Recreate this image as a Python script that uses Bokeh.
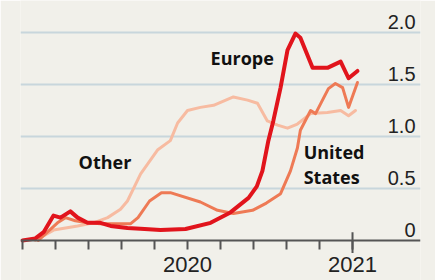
from bokeh.plotting import figure
from bokeh.models import ColumnDataSource, FixedTicker, Span, Range1d
from bokeh.core.properties import value
from bokeh.embed import file_html
from bokeh.resources import INLINE

# months since March 2020 (0 = Mar 2020, 10 = Jan 2021)
europe_m = [0, 0.39, 0.64, 0.94, 1.15, 1.45, 1.67, 1.97, 2.36, 2.67, 3.18, 3.7, 4.18, 4.94, 5.7,
            6.3, 6.85, 7.1, 7.27, 7.45, 7.6, 7.82, 8.03, 8.27, 8.42, 8.79, 9.24, 9.64, 9.88, 10.15]
europe_v = [0, 0.02, 0.08, 0.24, 0.22, 0.28, 0.22, 0.17, 0.17, 0.14, 0.12, 0.11, 0.10, 0.11, 0.17,
            0.27, 0.41, 0.52, 0.67, 0.96, 1.15, 1.47, 1.83, 1.99, 1.95, 1.66, 1.66, 1.72, 1.56, 1.63]

us_m = [0.48, 1.06, 1.3, 1.6, 1.97, 2.36, 3.27, 3.5, 3.85, 4.21, 4.48, 5.39, 5.91, 6.39, 6.97,
        7.39, 7.82, 8.12, 8.33, 8.42, 8.73, 8.88, 9.09, 9.27, 9.48, 9.7, 9.88, 10.15]
us_v = [0.0, 0.17, 0.22, 0.19, 0.17, 0.16, 0.16, 0.22, 0.38, 0.46, 0.46, 0.37, 0.29, 0.26, 0.29,
        0.36, 0.45, 0.67, 0.89, 1.06, 1.25, 1.22, 1.35, 1.46, 1.51, 1.47, 1.28, 1.52]

other_m = [0.39, 0.94, 1.67, 2.15, 2.58, 2.97, 3.18, 3.58, 4.09, 4.48, 4.7, 5.0, 5.39, 5.79, 6.39,
           6.82, 7.12, 7.42, 7.73, 8.03, 8.33, 8.73, 9.24, 9.64, 9.88, 10.09]
other_v = [0.0, 0.10, 0.14, 0.17, 0.22, 0.30, 0.38, 0.64, 0.87, 0.96, 1.13, 1.25, 1.28, 1.30, 1.38,
           1.35, 1.32, 1.15, 1.11, 1.08, 1.12, 1.22, 1.23, 1.25, 1.20, 1.25]

month_ticks = [0, 1, 2, 3, 4, 5, 6, 7, 8, 9, 10]
year_labels = {5: "2020", 10: "2021"}
y_ticks = [0, 0.5, 1.0, 1.5, 2.0]
y_tick_labels = ["0", "0.5", "1.0", "1.5", "2.0"]

series_labels = ["Europe", "Other", "United", "States"]
label_m = [5.70, 1.70, 8.52, 8.52]
label_v = [1.683, 0.69, 0.779, 0.548]

BG = "#f1f0ea"
NARROW = "Liberation Sans Narrow, Liberation Sans, sans-serif"

p = figure(width=435, height=280, output_backend="svg", toolbar_location=None,
           x_range=Range1d(-0.0606, 12.06), y_range=Range1d(-0.3846, 2.3077),
           min_border_left=20, min_border_right=15, min_border_top=0, min_border_bottom=0)
p.background_fill_color = BG
p.border_fill_color = BG
p.outline_line_color = None

p.yaxis.visible = False
p.xgrid.visible = False
p.ygrid.ticker = FixedTicker(ticks=[0.5, 1.0, 1.5, 2.0])
p.ygrid.grid_line_color = "#c8d6dc"
p.ygrid.grid_line_width = 2

xa = p.xaxis[0]
xa.fixed_location = 0
xa.ticker = FixedTicker(ticks=month_ticks)
xa.major_label_overrides = {k: year_labels.get(k, "") for k in month_ticks}
xa.axis_line_color = None
xa.major_tick_line_color = "#555555"
xa.major_tick_line_width = 2
xa.major_tick_out = 9
xa.major_tick_in = 0
xa.minor_tick_line_color = None
xa.major_label_standoff = 7
xa.major_label_text_font = NARROW
xa.major_label_text_font_size = "22px"
xa.major_label_text_color = "#222222"

p.add_layout(Span(location=0, dimension="width", line_color="#555555", line_width=2))

# longer tick at the year boundary
p.segment(x0=[month_ticks[-1]], y0=[-0.12], x1=[month_ticks[-1]], y1=[0.08],
          line_color="#555555", line_width=2)

p.line(other_m, other_v, line_color="#f7bba1", line_width=3, line_join="round", line_cap="round")
p.line(us_m, us_v, line_color="#ee7a55", line_width=3, line_join="round", line_cap="round")
p.line(europe_m, europe_v, line_color="#e1141c", line_width=4, line_join="round", line_cap="round")

ysrc = ColumnDataSource(dict(x=[11.91] * len(y_ticks), y=y_ticks, t=y_tick_labels))
p.text(x="x", y="y", text="t", source=ysrc, text_align="right", text_baseline="alphabetic",
       y_offset=-11, text_font=value(NARROW), text_font_size="20px", text_color="#222222")

lsrc = ColumnDataSource(dict(x=label_m, y=label_v, t=series_labels))
p.text(x="x", y="y", text="t", source=lsrc, text_align="left", text_baseline="alphabetic",
       y_offset=-7, text_font=value("Open Sans"), text_font_style="bold", text_font_size="18px",
       text_color="#111111")

open("out.html", "w").write(file_html(p, INLINE))
